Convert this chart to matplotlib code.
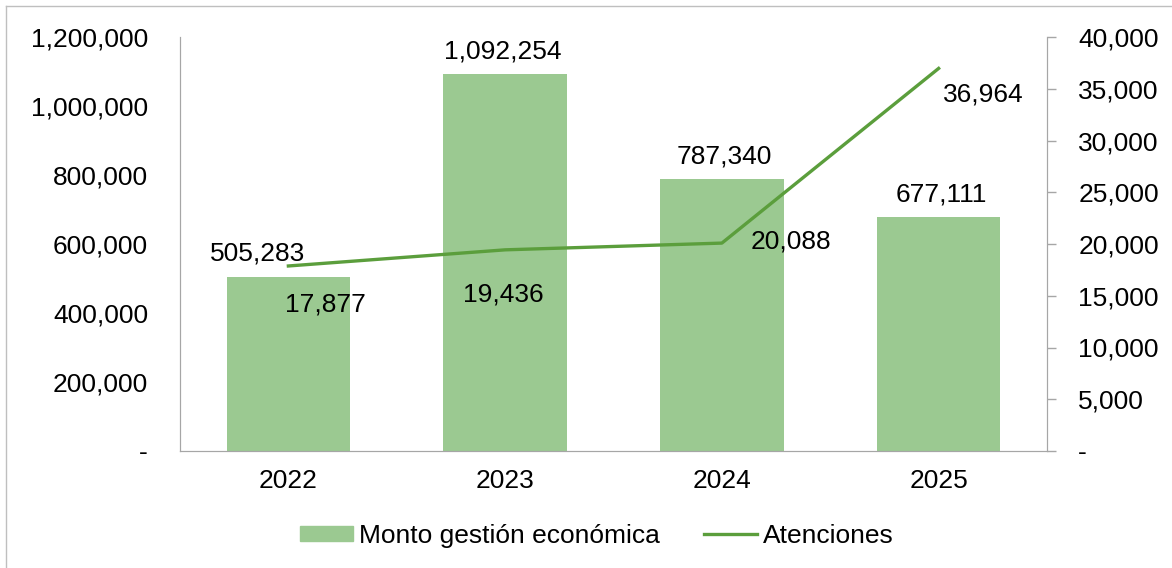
import matplotlib.pyplot as plt
from matplotlib.lines import Line2D
from matplotlib.patches import Patch
from matplotlib.ticker import FuncFormatter
import numpy as np

plt.rcParams['font.family'] = ['Liberation Sans', 'DejaVu Sans']

years = ['2022', '2023', '2024', '2025']
monto = [505283, 1092254, 787340, 677111]
atenciones = [17877, 19436, 20088, 36964]

# label offsets in points (dx, dy) from each mark
monto_offsets = [(-22, 8), (-2, 8), (2, 8), (2, 8)]
aten_offsets = [(27, -28), (-1, -32), (50, 1), (32, -19)]

bar_color = '#9BC991'
line_color = '#5B9E3C'
axis_color = '#A6A6A6'
fs = 19


def fmt(v, pos=None):
    if v == 0:
        return '-'
    return f'{v:,.0f}'


fig = plt.figure(figsize=(11.72, 5.68), dpi=100)
ax = fig.add_axes([180 / 1172, 1 - 451 / 568, 867 / 1172, 414 / 568])
ax2 = ax.twinx()

x = np.arange(len(years))
ax.bar(x, monto, width=0.57, color=bar_color, zorder=2)
ax2.plot(x, atenciones, color=line_color, lw=2.4, zorder=3)

ax.set_xlim(-0.5, 3.5)
ax.set_ylim(0, 1200000)
ax2.set_ylim(0, 40000)
ax.set_yticks(np.arange(0, 1200001, 200000))
ax2.set_yticks(np.arange(0, 40001, 5000))
ax.yaxis.set_major_formatter(FuncFormatter(fmt))
ax2.yaxis.set_major_formatter(FuncFormatter(fmt))
ax.set_xticks(x)
ax.set_xticklabels(years)

for a in (ax, ax2):
    for s in a.spines.values():
        s.set_color(axis_color)
    a.spines['top'].set_visible(False)
ax.tick_params(axis='y', length=0, pad=23, labelsize=fs)
ax.tick_params(axis='x', length=0, pad=13, labelsize=fs)
ax2.tick_params(axis='y', length=6.5, width=1, color=axis_color, direction='out',
                pad=16, labelsize=fs)

for xi, v, (dx, dy) in zip(x, monto, monto_offsets):
    ax.annotate(fmt(v), (xi, v), xytext=(dx, dy), textcoords='offset points',
                ha='center', va='bottom', fontsize=fs)
for xi, v, (dx, dy) in zip(x, atenciones, aten_offsets):
    ax2.annotate(fmt(v), (xi, v), xytext=(dx, dy), textcoords='offset points',
                 ha='center', va='center', fontsize=fs)

handles = [Patch(color=bar_color), Line2D([], [], color=line_color, lw=2.4)]
fig.legend(handles, ['Monto gestión económica', 'Atenciones'],
           loc='center', bbox_to_anchor=(597 / 1172, 1 - 536 / 568), ncol=2,
           frameon=False, fontsize=fs, handlelength=2.0, handleheight=0.53,
           handletextpad=0.23, columnspacing=1.67, borderpad=0)

# outer chart frame
fig.add_artist(Line2D([6 / 1172, 6 / 1172], [0, 1 - 6 / 568],
                      transform=fig.transFigure, color='#BFBFBF', lw=1))
fig.add_artist(Line2D([6 / 1172, 1], [1 - 6 / 568, 1 - 6 / 568],
                      transform=fig.transFigure, color='#BFBFBF', lw=1))

fig.savefig('out.png', dpi=100)
